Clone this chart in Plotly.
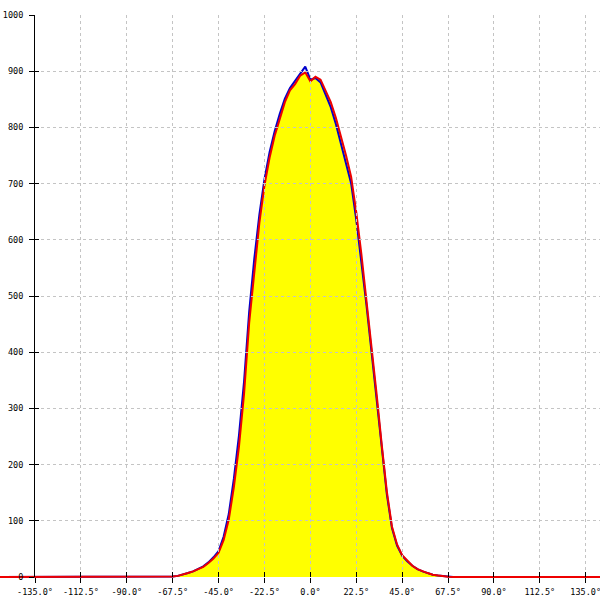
import plotly.graph_objects as go

# angle (degrees) and values
angles = [-160, -70, -67.5, -65, -62.5, -60, -57.5, -55, -52.5, -50, -47.5, -45, -42.5, -40,
          -37.5, -35, -32.5, -30, -27.5, -25, -22.5, -20, -17.5, -15, -12.5, -10, -7.5, -5,
          -2.5, 0, 2.5, 5, 7.5, 10, 12.5, 15, 17.5, 20, 22.5, 25, 27.5, 30, 32.5, 35, 37.5,
          40, 42.5, 45, 47.5, 50, 52.5, 55, 57.5, 60, 62.5, 65, 67.5, 70, 150]
red_vals = [0, 0, 1, 2, 4, 7, 10, 14, 18, 25, 33, 43, 66, 102,
            160, 232, 326, 452, 548, 630, 697, 746, 785, 817, 845, 866, 877, 892,
            898, 882, 890, 885, 866, 845, 817, 785, 750, 712, 649, 575, 495, 410, 325, 235, 152,
            90, 58, 39, 29, 20, 14, 10, 7, 4, 2.5, 1.5, 0.5, 0, 0]
blue_vals = [0, 0, 1, 2, 4, 7, 10, 14, 19, 26, 35, 46, 72, 112,
             175, 252, 348, 472, 566, 645, 708, 756, 793, 824, 851, 870, 882, 896,
             908, 885, 888, 880, 858, 836, 806, 772, 738, 700, 636, 562, 484, 400, 316, 228, 147,
             87, 56, 38, 28, 20, 14, 10, 7, 4, 2.5, 1.5, 0.5, 0, 0]

x_ticks = [-135, -112.5, -90, -67.5, -45, -22.5, 0, 22.5, 45, 67.5, 90, 112.5, 135]
x_tick_text = ["%.1f°" % v for v in x_ticks]
y_ticks = [0, 100, 200, 300, 400, 500, 600, 700, 800, 900, 1000]
y_tick_text = [str(v) for v in y_ticks]

fig = go.Figure()
fig.add_trace(go.Scatter(x=angles, y=red_vals, mode="lines", line=dict(width=0, color="#ff0000"),
                         fill="tozeroy", fillcolor="#ffff00", hoverinfo="skip",
                         xaxis="x", yaxis="y", showlegend=False))
fig.add_trace(go.Scatter(x=angles, y=blue_vals, mode="lines", line=dict(width=2, color="#0000cc"),
                         xaxis="x", yaxis="y", showlegend=False))
fig.add_trace(go.Scatter(x=angles, y=red_vals, mode="lines", line=dict(width=2, color="#ee0000"),
                         xaxis="x", yaxis="y", showlegend=False))
# empty traces so the axes subplots (grid, ticks, labels) are drawn on top
fig.add_trace(go.Scatter(x=[], y=[], mode="lines", xaxis="x2", yaxis="y2",
                         showlegend=False, hoverinfo="skip"))
fig.add_trace(go.Scatter(x=[], y=[], mode="lines", xaxis="x3", yaxis="y3",
                         showlegend=False, hoverinfo="skip"))

font = dict(family="DejaVu Sans Mono", size=8.5, color="#000000")
xdom = [35/600, 1]
ydom = [23/600, 585/600]
xr = [-135, 142.0]
yr = [0, 1000]
fig.update_layout(
    width=600, height=600,
    margin=dict(l=0, r=0, t=0, b=0, autoexpand=False),
    paper_bgcolor="white", plot_bgcolor="rgba(0,0,0,0)",
    showlegend=False,
    xaxis=dict(domain=[0, 1], range=[-152.16, 142.0], visible=False, showgrid=False,
               automargin=False),
    yaxis=dict(domain=[0, 1], range=[-40.93, 1026.69], visible=False, showgrid=False,
               automargin=False),
    xaxis2=dict(domain=xdom, range=xr, anchor="y2",
                tickvals=x_ticks, ticktext=x_tick_text, tickfont=font,
                ticks="outside", ticklen=5, tickcolor="#000", showline=False,
                showgrid=True, gridcolor="#c4c4c4", griddash="3px,3px", gridwidth=1,
                zeroline=False, automargin=False, ticklabeloverflow="allow",
                ticklabelstandoff=2),
    yaxis2=dict(domain=ydom, range=yr, anchor="x2",
                tickvals=y_ticks, ticktext=y_tick_text, tickfont=font,
                ticks="outside", ticklen=5, tickcolor="#000", showline=True,
                linecolor="#000", linewidth=1,
                showgrid=True, gridcolor="#c4c4c4", griddash="3px,3px", gridwidth=1,
                zeroline=False, automargin=False, ticklabeloverflow="allow",
                ticklabelstandoff=4),
    xaxis3=dict(domain=xdom, range=xr, anchor="y3", tickvals=x_ticks,
                ticks="inside", ticklen=5, tickcolor="#000", showticklabels=False,
                showline=False, showgrid=False, zeroline=False, automargin=False),
    yaxis3=dict(domain=ydom, range=yr, anchor="x3", tickvals=y_ticks,
                ticks="inside", ticklen=4, tickcolor="#000", showticklabels=False,
                showline=False, showgrid=False, zeroline=False, automargin=False),
)
fig.write_html("out.html", config={"displayModeBar": False},
               post_script="document.body.style.margin='0';")
